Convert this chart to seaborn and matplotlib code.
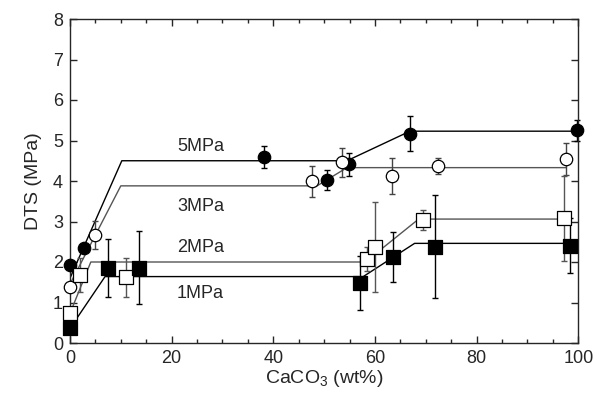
import matplotlib
matplotlib.use('Agg')
import matplotlib.pyplot as plt
import seaborn as sns
import pandas as pd
from matplotlib.ticker import MultipleLocator

# Dados (CaCO3 wt%, DTS MPa, barra de erro)
x_5 = [0, 2.8, 38.2, 50.5, 54.9, 66.9, 99.7]
y_5 = [1.93, 2.34, 4.59, 4.02, 4.41, 5.17, 5.25]
e_5 = [0, 0, 0.27, 0.24, 0.29, 0.43, 0.25]

x_3 = [0, 4.9, 47.6, 53.6, 63.3, 72.4, 97.6]
y_3 = [1.39, 2.67, 3.99, 4.46, 4.13, 4.38, 4.54]
e_3 = [0, 0.34, 0.39, 0.35, 0.44, 0.2, 0.4]

x_2 = [0, 2.0, 11.0, 58.4, 60.0, 69.5, 97.1]
y_2 = [0.73, 1.68, 1.62, 2.07, 2.37, 3.03, 3.08]
e_2 = [0, 0.42, 0.49, 0.3, 1.1, 0.25, 1.05]

x_1 = [0, 7.5, 13.5, 57.1, 63.6, 71.8, 98.4]
y_1 = [0.36, 1.86, 1.86, 1.48, 2.12, 2.38, 2.4]
e_1 = [0, 0.72, 0.9, 0.66, 0.62, 1.27, 0.68]

# Linhas de ajuste (vértices)
fx_5 = [0, 10.2, 54.5, 66.9, 99.7]
fy_5 = [1.6, 4.5, 4.5, 5.23, 5.23]
fx_3 = [0, 10.0, 48.6, 54.5, 97.6]
fy_3 = [1.45, 3.88, 3.88, 4.33, 4.33]
fx_2 = [0, 4.1, 58.1, 68.6, 97.1]
fy_2 = [0.73, 2.0, 2.0, 3.06, 3.06]
fx_1 = [0, 6.9, 57.7, 67.8, 98.4]
fy_1 = [0.36, 1.64, 1.64, 2.46, 2.46]

labels = ['5MPa', '3MPa', '2MPa', '1MPa']
label_x = [25.7, 25.7, 25.7, 25.7]
label_y = [4.86, 3.36, 2.37, 1.23]

sns.set_style('ticks')
plt.rcParams['font.family'] = ['Liberation Sans', 'DejaVu Sans']
plt.rcParams['mathtext.default'] = 'regular'

fig = plt.figure(figsize=(5.98, 4.0), dpi=100)
ax = fig.add_axes([0.117, 0.1425, 0.85, 0.81])

series = [
    (x_5, y_5, e_5, fx_5, fy_5, 'o', 'black', 'black', 'black'),
    (x_3, y_3, e_3, fx_3, fy_3, 'o', 'white', '#444444', '#555555'),
    (x_2, y_2, e_2, fx_2, fy_2, 's', 'white', '#555555', '#555555'),
    (x_1, y_1, e_1, fx_1, fy_1, 's', 'black', 'black', 'black'),
]

for xs, ys, es, fx, fy, mk, face, ecol, lcol in series:
    fit = pd.DataFrame({'x': fx, 'y': fy})
    sns.lineplot(data=fit, x='x', y='y', sort=False, color=lcol, lw=1.0, ax=ax, zorder=1)
    ax.errorbar(xs, ys, yerr=es, fmt='none', ecolor=ecol, elinewidth=1.0,
                capsize=2.5, capthick=1.0, zorder=2, clip_on=False)
    df = pd.DataFrame({'x': xs, 'y': ys})
    sns.scatterplot(data=df, x='x', y='y', marker=mk, s=80 if mk == 'o' else 90,
                    color=face, edgecolor='black', linewidth=0.9, ax=ax, zorder=3,
                    clip_on=False)

for lab, lx, ly in zip(labels, label_x, label_y):
    ax.text(lx, ly, lab, ha='center', va='center', fontsize=13)

ax.set_xlim(0, 100)
ax.set_ylim(0, 8)
ax.xaxis.set_major_locator(MultipleLocator(20))
ax.xaxis.set_minor_locator(MultipleLocator(5))
ax.yaxis.set_major_locator(MultipleLocator(1))
ax.tick_params(which='both', direction='in', top=True, right=True, width=1.0)
ax.tick_params(which='major', length=5, labelsize=13, pad=5)
ax.tick_params(which='minor', length=3)
for s in ax.spines.values():
    s.set_linewidth(1.0)
ax.set_xlabel('CaCO$_3$ (wt%)', fontsize=14, labelpad=1)
ax.set_ylabel('DTS (MPa)', fontsize=14, labelpad=8)

fig.savefig('out.png', dpi=100)
